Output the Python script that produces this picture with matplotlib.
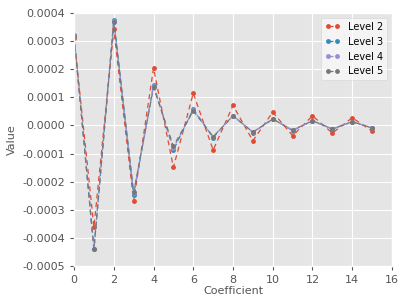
import matplotlib
matplotlib.use('Agg')
import matplotlib.pyplot as plt

plt.style.use('ggplot')

coef = list(range(16))
level2 = [0.000310, -0.000362, 0.000342, -0.000270, 0.000204, -0.000149, 0.000115, -0.0000875,
          0.0000715, -0.0000544, 0.0000477, -0.0000366, 0.0000345, -0.000027, 0.0000274, -0.000020]
level3 = [0.000322, -0.000441, 0.000377, -0.000248, 0.000145, -0.0000875, 0.0000584, -0.000043,
          0.0000350, -0.000025, 0.0000235, -0.000018, 0.000017, -0.000013, 0.0000135, -0.000009]
level4 = [0.000320, -0.000440, 0.000372, -0.000242, 0.000140, -0.000080, 0.000055, -0.000041,
          0.0000347, -0.000024, 0.000023, -0.000017, 0.0000168, -0.000012, 0.0000133, -0.0000085]
level5 = [0.000318, -0.000439, 0.000369, -0.000238, 0.000136, -0.0000733, 0.0000523, -0.000040,
          0.0000345, -0.0000235, 0.0000228, -0.0000164, 0.0000167, -0.0000117, 0.0000132, -0.000008]

labels = ['Level 2', 'Level 3', 'Level 4', 'Level 5']
series = [level2, level3, level4, level5]

fig = plt.figure(figsize=(4.07, 3.05), dpi=100)
ax = fig.add_axes([0.182, 0.128, 0.781, 0.829])

for vals, lab in zip(series, labels):
    ax.plot(coef, vals, '--o', markersize=3.5, markeredgewidth=0, linewidth=0.9,
            dashes=(4, 3), label=lab)

ax.set_xlim(0, 16)
ax.set_ylim(-0.0005, 0.0004)
ax.set_xticks(range(0, 17, 2))
ax.set_yticks([-0.0005, -0.0004, -0.0003, -0.0002, -0.0001, 0.0, 0.0001, 0.0002, 0.0003, 0.0004])
ax.set_yticklabels(['%.4f' % v if v != 0 else '0.0000' for v in ax.get_yticks()])
ax.tick_params(labelsize=8, direction='out', length=3)
ax.set_xlabel('Coefficient', fontsize=8, labelpad=1)
ax.set_ylabel('Value', fontsize=8)

leg = ax.legend(loc='upper right', fontsize=7, numpoints=2, frameon=True, handlelength=1.6)
leg.get_frame().set_facecolor('white')
leg.get_frame().set_alpha(0.6)

fig.savefig('out.png', dpi=100)
